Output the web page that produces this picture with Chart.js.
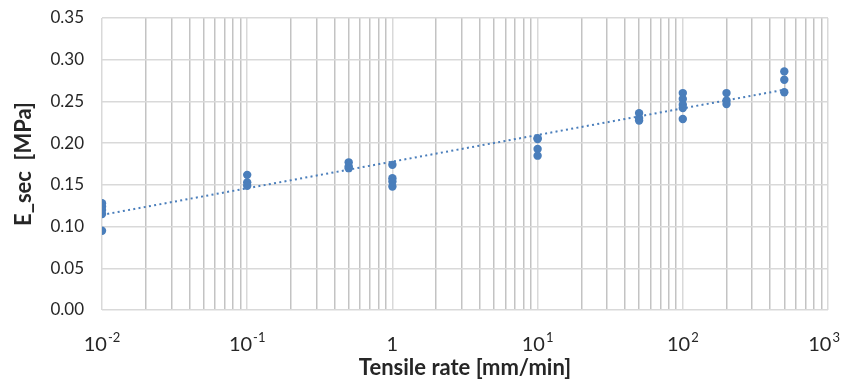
<!DOCTYPE html>
<html>
<head>
<meta charset="utf-8">
<script src="https://cdn.jsdelivr.net/npm/chart.js@4.4.1/dist/chart.umd.min.js"></script>
<style>
  html, body { margin: 0; padding: 0; background: #ffffff; }
  #wrap { width: 842px; height: 383px; }
</style>
</head>
<body>
<div id="wrap"><canvas id="esecChart" width="842" height="383"></canvas></div>
<script>
// measured points: tensile rate [mm/min] and secant modulus [MPa]
const tensileRate = [
  0.01, 0.01, 0.01, 0.01, 0.01,
  0.1, 0.1, 0.1,
  0.5, 0.5, 0.5,
  1, 1, 1, 1,
  10, 10, 10, 10,
  50, 50, 50,
  100, 100, 100, 100, 100,
  200, 200, 200,
  500, 500, 500
];
const eSec = [
  0.128, 0.124, 0.120, 0.115, 0.095,
  0.162, 0.153, 0.149,
  0.177, 0.172, 0.170,
  0.174, 0.158, 0.154, 0.148,
  0.206, 0.205, 0.193, 0.185,
  0.236, 0.230, 0.227,
  0.260, 0.253, 0.246, 0.242, 0.229,
  0.260, 0.251, 0.247,
  0.286, 0.276, 0.261
];

// trendline ends
const trendRate = [0.01, 500];
const trendESec = [0.114, 0.264];

// axis ticks
const decadeTicks = [0.01, 0.1, 1, 10, 100, 1000];
const decadeBase = ["10", "10", "1", "10", "10", "10"];
const decadeExp = ["-2", "-1", "", "1", "2", "3"];
const yTicks = [0, 0.05, 0.10, 0.15, 0.20, 0.25, 0.30, 0.35];

const blue = "#4a7ebb";
const textColor = "#262626";

function decadeIndex(v) {
  return decadeTicks.findIndex((d) => Math.abs(v / d - 1) < 1e-6);
}

// gridline positions 1..9 x 10^n
let xGridValues = [];
decadeTicks.forEach((d, i) => {
  if (i == decadeTicks.length - 1) {
    xGridValues.push(d);
    return;
  }
  for (let m = 1; m < 10; m++) {
    xGridValues.push(+(d * m).toPrecision(3));
  }
});

const points = tensileRate.map((x, i) => ({ x: x, y: eSec[i] }));
const trend = trendRate.map((x, i) => ({ x: x, y: trendESec[i] }));

// x labels as 10 with a raised exponent
const powerLabels = {
  id: "powerLabels",
  afterDraw(chart) {
    const c = chart.ctx;
    const xScale = chart.scales.x;
    const baseFont = "20px Lato";
    const expFont = "13px Lato";
    c.save();
    c.fillStyle = textColor;
    c.textBaseline = "alphabetic";
    c.textAlign = "left";
    decadeTicks.forEach((v, i) => {
      c.font = baseFont;
      const wBase = c.measureText(decadeBase[i]).width;
      c.font = expFont;
      const wExp = decadeExp[i] ? c.measureText(decadeExp[i]).width + 1 : 0;
      const px = xScale.getPixelForValue(v);
      // keep the last label inside the canvas
      const x0 = Math.min(px - (wBase + wExp) / 2, chart.width - 2 - wBase - wExp);
      c.font = baseFont;
      c.fillText(decadeBase[i], x0, 351);
      if (decadeExp[i]) {
        c.font = expFont;
        c.fillText(decadeExp[i], x0 + wBase + 1, 342);
      }
    });
    c.restore();
  },
};

const ctx = document.getElementById("esecChart").getContext("2d");

const esecChart = new Chart(ctx, {
  type: "scatter",
  data: {
    datasets: [
      {
        label: "trend",
        data: trend,
        showLine: true,
        borderColor: blue,
        borderWidth: 2,
        borderDash: [2, 3.3],
        pointRadius: 0,
        fill: false,
      },
      {
        label: "E_sec",
        data: points,
        backgroundColor: blue,
        borderColor: blue,
        pointRadius: 4.2,
        borderWidth: 0,
      },
    ],
  },
  options: {
    responsive: false,
    animation: false,
    devicePixelRatio: 1,
    layout: {
      padding: { top: 18, right: 14, left: 0, bottom: 0 },
    },
    plugins: {
      legend: { display: false },
      tooltip: { enabled: false },
    },
    scales: {
      x: {
        type: "logarithmic",
        min: 0.01,
        max: 1000,
        afterBuildTicks: function (scale) {
          scale.ticks = xGridValues.map((v) => ({ value: v, major: decadeIndex(v) >= 0 }));
        },
        afterFit: function (scale) {
          scale.height = 73;
          scale.paddingLeft = 0;
          scale.paddingRight = 0;
        },
        grid: {
          drawTicks: false,
          lineWidth: 1.5,
          color: function (c) {
            return c.tick && decadeIndex(c.tick.value) >= 0 ? "#d9d9d9" : "#c3c3c3";
          },
        },
        border: { display: false },
        ticks: {
          display: false,
          autoSkip: false,
        },
        title: {
          display: true,
          text: "Tensile rate [mm/min]",
          color: textColor,
          font: { family: "Lato", size: 22, weight: "bold" },
          padding: { top: 0, bottom: 2 },
        },
      },
      y: {
        min: 0,
        max: 0.35,
        afterBuildTicks: function (scale) {
          scale.ticks = yTicks.map((v) => ({ value: v }));
        },
        afterFit: function (scale) {
          scale.width = 102;
          scale.paddingTop = 0;
          scale.paddingBottom = 0;
        },
        grid: {
          drawTicks: false,
          lineWidth: 1.5,
          color: "#d9d9d9",
        },
        border: { display: false },
        ticks: {
          padding: 18,
          color: textColor,
          font: { family: "Lato", size: 17 },
          callback: function (value) {
            return value.toFixed(2);
          },
        },
        title: {
          display: true,
          text: "E_sec  [MPa]",
          color: textColor,
          font: { family: "Lato", size: 22, weight: "bold" },
          padding: { top: 11, bottom: 0 },
        },
      },
    },
  },
  plugins: [powerLabels],
});
</script>
</body>
</html>
